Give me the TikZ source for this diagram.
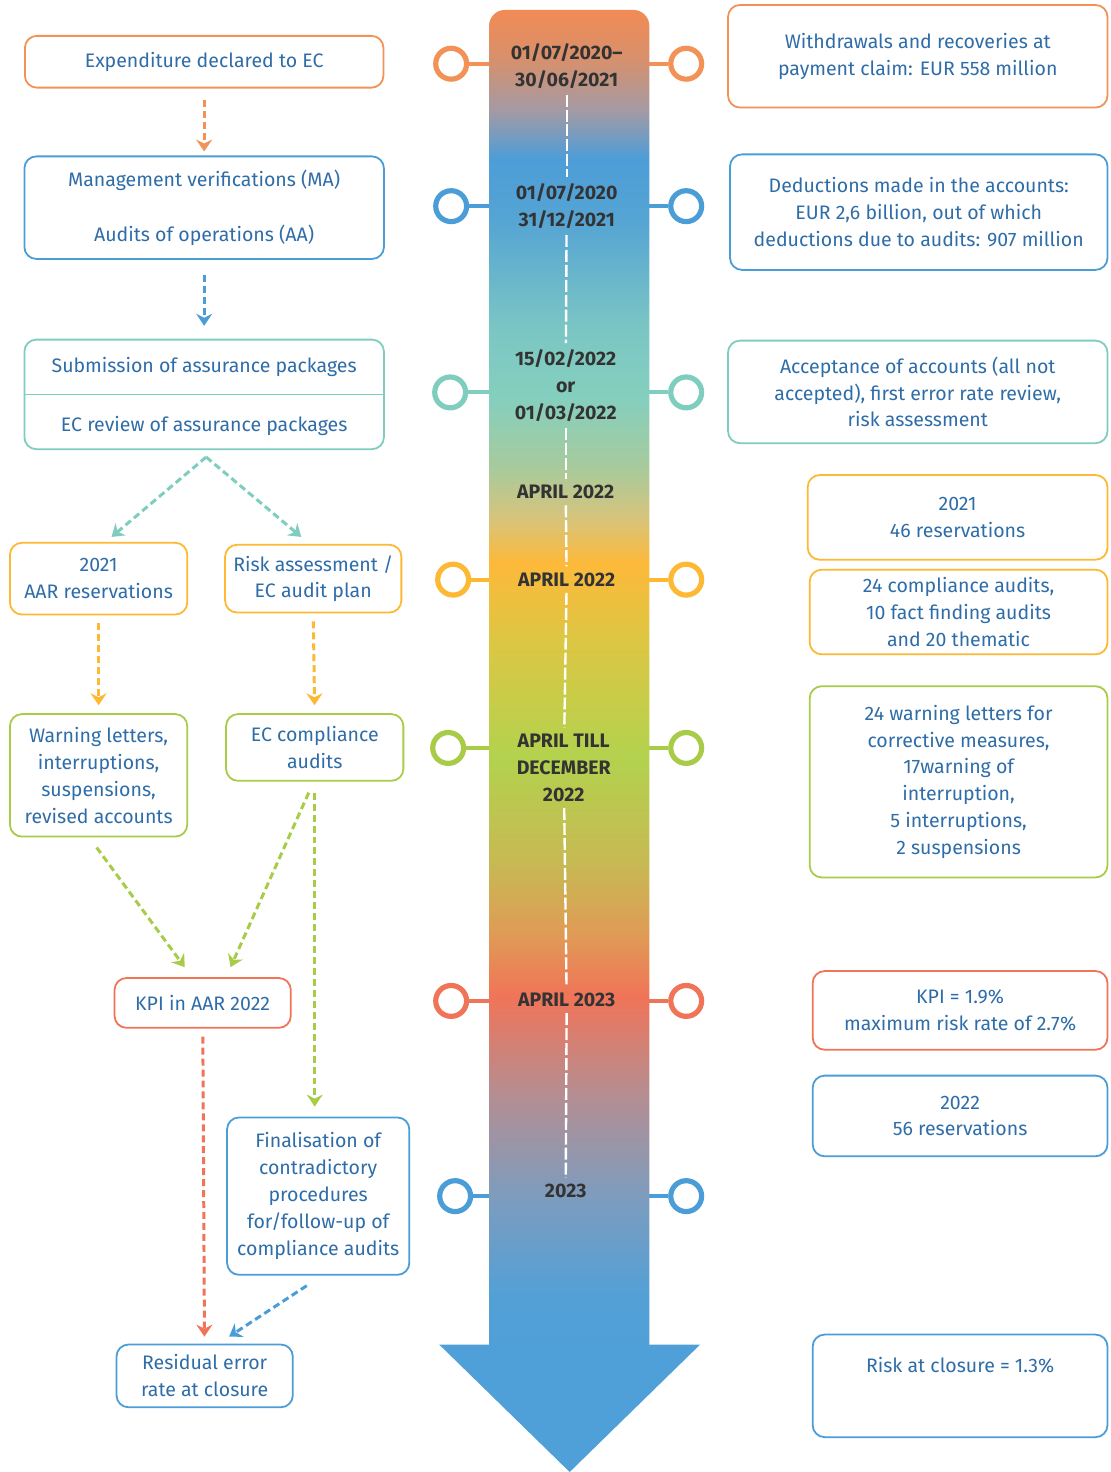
\documentclass[tikz,border=0pt]{standalone}
\usepackage{fontspec}
\setmainfont{Fira Sans}
\usetikzlibrary{arrows.meta, calc}
\definecolor{cOr}{HTML}{F39257}
\definecolor{cBl}{HTML}{4B9DD8}
\definecolor{cTe}{HTML}{7FCDBF}
\definecolor{cYe}{HTML}{FDB933}
\definecolor{cGr}{HTML}{A9CC48}
\definecolor{cRe}{HTML}{F07458}
\definecolor{txt}{HTML}{2F6DA8}
\definecolor{datec}{HTML}{333333}
\definecolor{headc}{HTML}{4FA0D8}
% colours along the time line, top to bottom
\definecolor{g01}{HTML}{F28B55}
\definecolor{g02}{HTML}{D8906C}
\definecolor{g03}{HTML}{A59AA3}
\definecolor{g04}{HTML}{4D9DD8}
\definecolor{g05}{HTML}{55A4D4}
\definecolor{g06}{HTML}{7BC6C4}
\definecolor{g07}{HTML}{85CFBE}
\definecolor{g08}{HTML}{A8CA9C}
\definecolor{g09}{HTML}{D6C47C}
\definecolor{g10}{HTML}{FDB93A}
\definecolor{g11}{HTML}{DEC643}
\definecolor{g12}{HTML}{B3D24E}
\definecolor{g13}{HTML}{C8B853}
\definecolor{g14}{HTML}{E09A56}
\definecolor{g15}{HTML}{F07458}
\definecolor{g16}{HTML}{B48E92}
\definecolor{g17}{HTML}{7E9CBE}
\definecolor{g18}{HTML}{53A0D6}
\definecolor{g19}{HTML}{4FA0D8}
\pgfdeclareverticalshading{timeline}{100bp}{%
  color(0bp)=(g19); color(25bp)=(g19); color(27.4bp)=(g18); color(31.09bp)=(g17);
  color(34.78bp)=(g16); color(38.47bp)=(g15); color(40.68bp)=(g14); color(43.27bp)=(g13);
  color(47.32bp)=(g12); color(51.75bp)=(g11); color(54.52bp)=(g10); color(56.18bp)=(g09);
  color(58.03bp)=(g08); color(60.61bp)=(g07); color(63.19bp)=(g06); color(67.25bp)=(g05);
  color(69.47bp)=(g04); color(71.31bp)=(g03); color(73.2bp)=(g02); color(75bp)=(g01);
  color(100bp)=(g01)}
\newcommand\bxfont{\fontsize{9.8}{13.5}\selectfont}

\begin{document}
\begin{tikzpicture}[
    x=0.5pt, y=-0.5pt,
    box/.style={draw, rounded corners=6pt, line width=0.9pt, align=center,
                text=txt, font=\bxfont, inner sep=2pt},
    stamp/.style={font=\bxfont\bfseries, text=datec, align=center, inner sep=3pt},
    dot/.style={circle, draw, line width=2.6pt, fill=white, minimum size=15.5pt, inner sep=0pt},
    flow/.style={line width=1.5pt, dash pattern=on 3.5pt off 2pt,
                 -{Stealth[length=6pt, width=8pt, inset=2pt]}},
    wline/.style={white, line width=1.2pt, dash pattern=on 6pt off 1.5pt},
]
\fill[white] (0,0) rectangle (1115,1472);

% ---------------- time line: dots, shaft, head
\foreach \n/\y/\xl/\c in {1/64/453/cOr, 2/207/453/cBl, 3/394/452/cTe, 4/582/455/cYe,
                          5/751/450/cGr, 6/1005/453/cRe, 7/1201/457/cBl}{
    \node[dot, draw=\c] (cl\n) at (\xl,\y) {};
    \node[dot, draw=\c] (cr\n) at (689,\y) {};
    \draw[\c, line width=2pt] (cl\n) -- (cr\n);
}
\shade[shading=timeline, rounded corners=8pt] (491,10) rectangle (652,1365);
\fill[headc] (441,1350) -- (703,1350) -- (572,1478) -- cycle;

\node[stamp] (t1) at (569,66) {01/07/2020–\\30/06/2021};
\node[stamp] (t2) at (569,207) {01/07/2020\\31/12/2021};
\node[stamp] (t3) at (568,387) {15/02/2022\\or\\01/03/2022};
\node[stamp] (t4) at (568,494) {APRIL 2022};
\node[stamp] (t5) at (569,582) {APRIL 2022};
\node[stamp] (t6) at (566,771) {APRIL TILL\\DECEMBER\\2022};
\node[stamp] (t7) at (569,1004) {APRIL 2023};
\node[stamp] (t8) at (568,1196) {2023};
\foreach \a/\b in {t1/t2, t2/t3, t3/t4, t4/t5, t5/t6, t6/t7, t7/t8}
    \draw[wline] (\a) -- (\b);

% ---------------- left column
\node[box, draw=cOr, minimum width=180pt, minimum height=26pt] (exp) at (205,62)
    {Expenditure declared to EC};
\node[box, draw=cBl, minimum width=180.5pt, minimum height=51.5pt] (mgmt) at (205,208.5)
    {Management verifications (MA)\\[14pt]Audits of operations (AA)};
\node[box, draw=cTe, minimum width=180.5pt, minimum height=55pt, text depth=0pt] (subm) at (205,396)
    {Submission of assurance packages\\[16.5pt]EC review of assurance packages};
\draw[cTe, line width=0.9pt] (subm.west) -- (subm.east);
\node[box, draw=cYe, minimum width=89pt, minimum height=36pt] (aar) at (99,581)
    {2021\\AAR reservations};
\node[box, draw=cYe, minimum width=88.5pt, minimum height=34pt] (riskplan) at (314.5,581)
    {Risk assessment /\\EC audit plan};
\node[box, draw=cGr, minimum width=89pt, minimum height=61.5pt] (warnl) at (99,778.5)
    {Warning letters,\\interruptions,\\suspensions,\\revised accounts};
\node[box, draw=cGr, minimum width=89pt, minimum height=33.5pt] (ecaudit) at (316,750.5)
    {EC compliance\\audits};
\node[box, draw=cRe, minimum width=88.5pt, minimum height=25pt] (kpi) at (203.5,1007)
    {KPI in AAR 2022};
\node[box, draw=cBl, minimum width=91.5pt, minimum height=79pt] (final) at (319.5,1201)
    {Finalisation of\\contradictory\\procedures\\for/follow-up of\\compliance audits};
\node[box, draw=cBl, minimum width=88.5pt, minimum height=31.5pt] (resid) at (205.5,1381.5)
    {Residual error\\rate at closure};

\draw[flow, cOr, shorten <=6pt, shorten >=2pt] (exp) -- (mgmt);
\draw[flow, cBl, shorten <=7.5pt, shorten >=6.5pt] (mgmt) -- (subm);
\draw[flow, cTe] ($(subm.south)+(2,7)$) -- ($(aar.north)+(13,-5)$);
\draw[flow, cTe] ($(subm.south)+(2,7)$) -- ($(riskplan.north)+(-12,-7)$);
\draw[flow, cYe, shorten <=4pt, shorten >=4pt] (aar) -- (warnl);
\draw[flow, cYe, shorten <=4pt, shorten >=4pt] (riskplan.south) -- (ecaudit.north);
\draw[flow, cGr] ($(warnl.south)+(-2,10)$) -- ($(kpi.north)+(-18,-10)$);
\draw[flow, cGr] ($(ecaudit.south)+(-6,11)$) -- ($(kpi.north)+(28,-10)$);
\draw[flow, cGr] ($(ecaudit.south)+(0,11)$) -- ($(final.north)+(-3.5,-10)$);
\draw[flow, cRe, shorten <=4pt, shorten >=3.5pt] (kpi) -- (resid);
\draw[flow, cBl] ($(final.south)+(-11.5,10)$) -- ($(resid.north)+(24.5,-7)$);

% ---------------- right column
\node[box, draw=cOr, minimum width=190.5pt, minimum height=51.5pt] (withdr) at (921.5,56.5)
    {Withdrawals and recoveries at\\payment claim: EUR 558 million};
\node[box, draw=cBl, minimum width=189.5pt, minimum height=58pt] (deduct) at (922.5,213)
    {Deductions made in the accounts:\\EUR 2,6 billion, out of which\\deductions due to audits: 907 million};
\node[box, draw=cTe, minimum width=190.5pt, minimum height=51.5pt] (accept) at (921.5,393.5)
    {Acceptance of accounts (all not\\accepted), first error rate review,\\risk assessment};
\node[box, draw=cYe, minimum width=150.5pt, minimum height=42.5pt] (res21) at (961.5,519.5)
    {2021\\46 reservations};
\node[box, draw=cYe, minimum width=149.5pt, minimum height=42.5pt] (audits) at (962.5,614.5)
    {24 compliance audits,\\10 fact finding audits\\and 20 thematic};
\node[box, draw=cGr, minimum width=149.5pt, minimum height=96pt] (letters) at (962.5,785)
    {24 warning letters for\\corrective measures,\\17warning of\\interruption,\\5 interruptions,\\2 suspensions};
\node[box, draw=cRe, minimum width=148pt, minimum height=39.5pt] (kpival) at (964,1014.5)
    {KPI = 1.9\%\\maximum risk rate of 2.7\%};
\node[box, draw=cBl, minimum width=148pt, minimum height=40.5pt] (res22) at (964,1120.5)
    {2022\\56 reservations};
\node[box, draw=cBl, minimum width=148pt, minimum height=51.5pt] (closure) at (964,1391.5)
    {Risk at closure = 1.3\%\\[8pt]\mbox{}};
\end{tikzpicture}
\end{document}
